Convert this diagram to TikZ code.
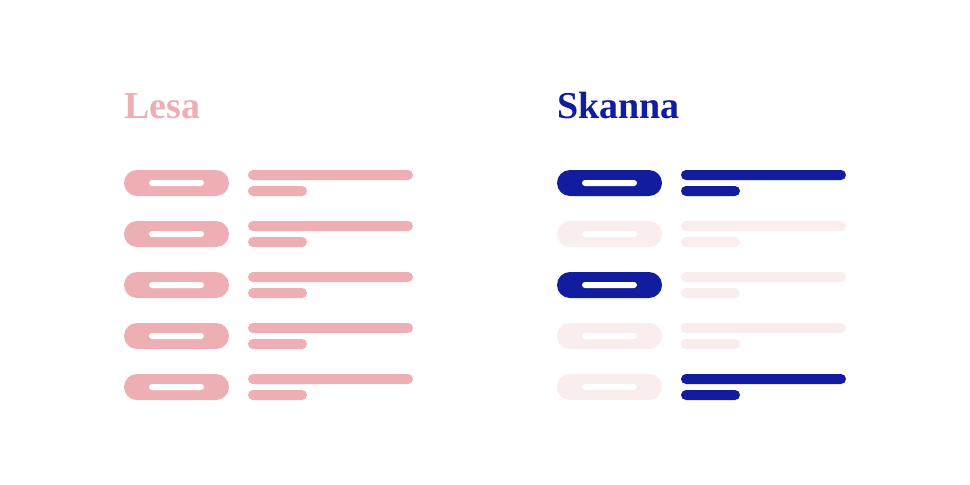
\documentclass[tikz,border=0pt]{standalone}
\usepackage{fontspec}
\setmainfont{Liberation Serif}
\begin{document}
\definecolor{pink}{HTML}{EDAFB4}
\definecolor{navy}{HTML}{111C9E}
\definecolor{faint}{HTML}{FAEDED}
\begin{tikzpicture}[x=1pt,y=-1pt,
  pill/.style={rounded corners=13pt},
  bar/.style={rounded corners=5pt},
  ttl/.style={anchor=base west,inner sep=0,font=\fontsize{38}{40}\selectfont\bfseries}]
\useasboundingbox[fill=white] (0,0) rectangle (970,485);
\node[ttl,text=pink] (lesa) at (124,118) {Lesa};
\node[ttl,text=navy] (skanna) at (557,118) {Skanna};
\newcommand{\myrow}[4]{% x offset, y, pill colour, bar colour
  \fill[#3,pill] (#1,#2) rectangle ++(105,26);
  \fill[white,rounded corners=3pt] (#1+25,#2+10) rectangle ++(55,6);
  \fill[#4,bar] (#1+124,#2) rectangle ++(165,10);
  \fill[#4,bar] (#1+124,#2+16) rectangle ++(59,10);
}
\foreach \y in {170,221,272,323,374} {\myrow{124}{\y}{pink}{pink}}
\myrow{557}{170}{navy}{navy}
\myrow{557}{221}{faint}{faint}
\myrow{557}{272}{navy}{faint}
\myrow{557}{323}{faint}{faint}
\myrow{557}{374}{faint}{navy}
\end{tikzpicture}
\end{document}
